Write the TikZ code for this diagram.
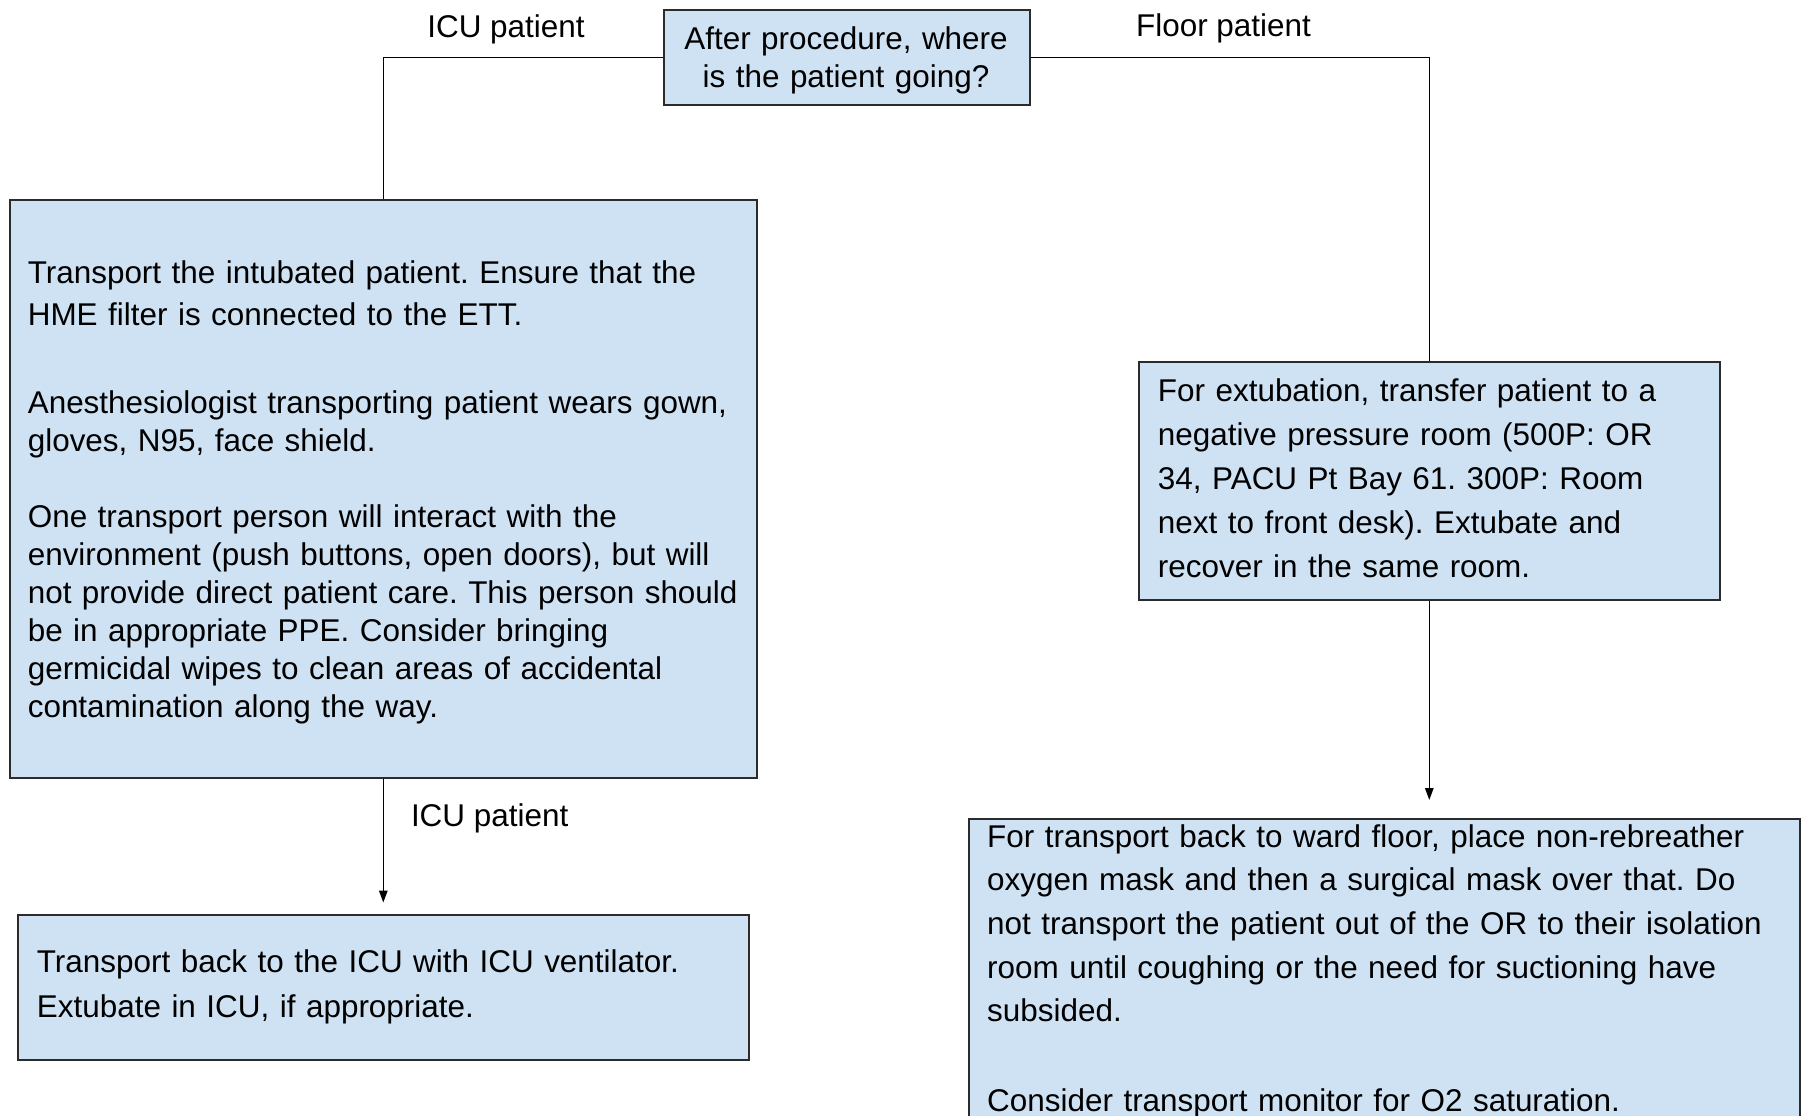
\documentclass[tikz,border=0pt]{standalone}
\usepackage{fontspec}
\setmainfont{Liberation Sans}
\usetikzlibrary{arrows.meta}
\definecolor{boxfill}{HTML}{CFE2F3}
\definecolor{boxline}{HTML}{2B2B2B}
\frenchspacing

\begin{document}
\begin{tikzpicture}[x=1pt,y=-1pt,
  box/.style={draw=boxline, line width=1.6pt, fill=boxfill, inner sep=0pt, anchor=north west},
  body/.style={font=\fontsize{31.45}{#1}\selectfont, inner sep=0pt, align=left, anchor=base west, text width=1000pt},
  lbl/.style={font=\fontsize{31.45}{38}\selectfont, inner sep=0pt, anchor=base},
  link/.style={line width=1.4pt, black},
  arr/.style={link, -{Triangle[length=12pt,width=8.5pt]}},
]
\useasboundingbox (0,0) rectangle (1805,1116);

% boxes
\node[box, minimum width=366pt, minimum height=95pt] (start) at (663,9) {};
\node[box, minimum width=747pt, minimum height=578pt] (icu) at (9,199) {};
\node[box, minimum width=581pt, minimum height=238pt] (floor) at (1138,361) {};
\node[box, minimum width=731pt, minimum height=145pt] (icuvent) at (17,914) {};
\node[box, minimum width=831pt, minimum height=330pt] (ward) at (968,818) {};

% box texts
\node[body=38, text width=366pt, align=center, anchor=base] (starttxt) at (846,49.3)
  {After procedure, where\\is the patient going?};

\node[body=38] (icutxt) at (27.6,283)
  {Transport the intubated patient. Ensure that the\\[4.5pt]
   HME filter is connected to the ETT.\\[49.7pt]
   Anesthesiologist transporting patient wears gown,\\
   gloves, N95, face shield.\\[38pt]
   One transport person will interact with the\\
   environment (push buttons, open doors), but will\\
   not provide direct patient care. This person should\\
   be in appropriate PPE. Consider bringing\\
   germicidal wipes to clean areas of accidental\\
   contamination along the way.};

\node[body=44.1] (floortxt) at (1157.7,401)
  {For extubation, transfer patient to a\\
   negative pressure room (500P: OR\\
   34, PACU Pt Bay 61. 300P: Room\\
   next to front desk). Extubate and\\
   recover in the same room.};

\node[body=44.6] (icuventtxt) at (36.7,972.7)
  {Transport back to the ICU with ICU ventilator.\\
   Extubate in ICU, if appropriate.};

\node[body=43.6] (wardtxt) at (987,847.3)
  {For transport back to ward floor, place non-rebreather\\
   oxygen mask and then a surgical mask over that. Do\\
   not transport the patient out of the OR to their isolation\\
   room until coughing or the need for suctioning have\\
   subsided.\\[46.4pt]
   Consider transport monitor for O2 saturation.};

% connectors
\draw[link] (start.west) -| (icu.north);
\draw[link] (start.east) -| (floor.north);
\draw[arr, shorten >=11.5pt] (icu.south) -- (icuvent.north);
\draw[arr, shorten >=18pt] (floor.south) -- (floor.south |- ward.north);

% branch labels
\node[lbl] (lblicu) at (506,37.3) {ICU patient};
\node[lbl] (lblfloor) at (1223.5,36.7) {Floor patient};
\node[lbl, anchor=base west] (lblicu2) at (410.8,826.7) {ICU patient};
\end{tikzpicture}
\end{document}
